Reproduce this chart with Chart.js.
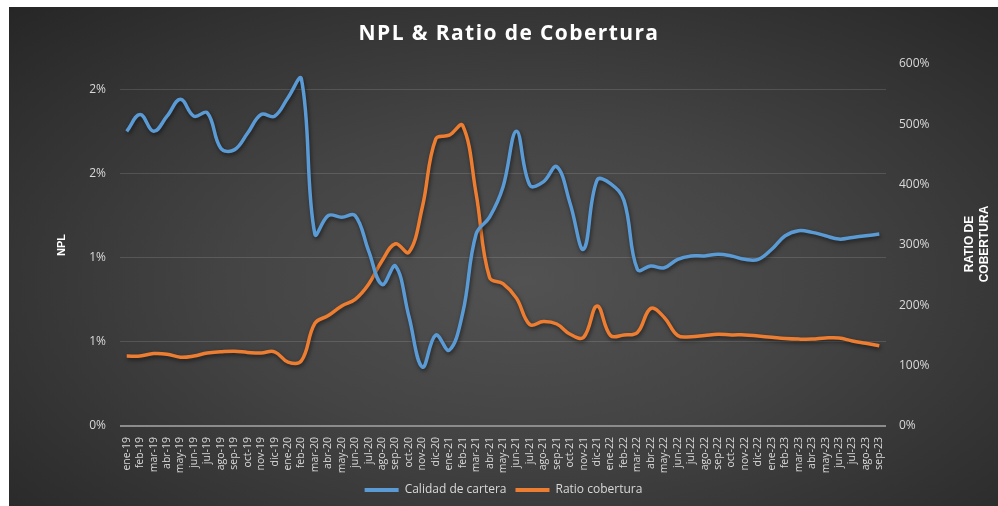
<!DOCTYPE html>
<html>
<head>
<meta charset="utf-8">
<script src="https://cdn.jsdelivr.net/npm/chart.js@4.4.1/dist/chart.umd.min.js"></script>
<style>
  html, body { margin: 0; padding: 0; background: #ffffff; }
  #wrap {
    position: absolute; left: 9px; top: 7px; width: 989px; height: 499px;
    background: radial-gradient(ellipse at 52% 55%, #525252 0%, #444444 40%, #262626 100%);
  }
  canvas { display: block; }
</style>
</head>
<body>
<div id="wrap"><canvas id="chart" width="989" height="499"></canvas></div>
<script>
// meses ene-19 ... sep-23
const meses = [
  "ene-19","feb-19","mar-19","abr-19","may-19","jun-19","jul-19","ago-19","sep-19","oct-19","nov-19","dic-19",
  "ene-20","feb-20","mar-20","abr-20","may-20","jun-20","jul-20","ago-20","sep-20","oct-20","nov-20","dic-20",
  "ene-21","feb-21","mar-21","abr-21","may-21","jun-21","jul-21","ago-21","sep-21","oct-21","nov-21","dic-21",
  "ene-22","feb-22","mar-22","abr-22","may-22","jun-22","jul-22","ago-22","sep-22","oct-22","nov-22","dic-22",
  "ene-23","feb-23","mar-23","abr-23","may-23","jun-23","jul-23","ago-23","sep-23"
];

// NPL en % (eje izquierdo)
const calidadCartera = [
  1.75, 1.85, 1.75, 1.84, 1.94, 1.84, 1.86, 1.65, 1.64, 1.74, 1.85, 1.84,
  1.95, 2.06, 1.14, 1.25, 1.24, 1.25, 1.04, 0.84, 0.95, 0.65, 0.35, 0.54,
  0.45, 0.67, 1.14, 1.24, 1.42, 1.75, 1.43, 1.45, 1.54, 1.32, 1.05, 1.46,
  1.44, 1.34, 0.93, 0.95, 0.94, 0.99, 1.01, 1.01, 1.02, 1.01, 0.99, 0.99,
  1.05, 1.13, 1.16, 1.15, 1.13, 1.11, 1.12, 1.13, 1.14
];

// ratio de cobertura en % (eje derecho)
const ratioCobertura = [
  116, 116, 120, 119, 114, 116, 121, 123, 124, 122, 121, 123,
  106, 108, 170, 183, 199, 210, 235, 274, 302, 288, 363, 476,
  482, 498, 385, 246, 236, 212, 168, 173, 169, 152, 147, 199,
  150, 151, 155, 195, 180, 150, 148, 150, 152, 151, 151, 149,
  147, 145, 144, 144, 146, 146, 141, 137, 133
];

const tituloGrafico = "NPL & Ratio de Cobertura";
const tituloDerecho = ["RATIO DE", "COBERTURA"];

const azul = "#5b9bd5";
const naranja = "#ed7d31";
const gris = "#d9d9d9";

// sombra suave de las lineas (como en Excel)
const sombra = {
  id: "sombra",
  beforeDatasetsDraw(chart) {
    const c = chart.ctx;
    c.save();
    c.shadowColor = "rgba(0,0,0,0.55)";
    c.shadowBlur = 4;
    c.shadowOffsetX = 1;
    c.shadowOffsetY = 2;
  },
  afterDatasetsDraw(chart) {
    chart.ctx.restore();
  }
};

// titulo principal y titulo del eje derecho
const textos = {
  id: "textos",
  afterDraw(chart) {
    const c = chart.ctx;
    c.save();
    c.fillStyle = "#ffffff";
    c.textAlign = "center";
    c.textBaseline = "middle";
    c.font = "bold 21px 'Open Sans'";
    c.letterSpacing = "1.4px";
    c.fillText(tituloGrafico, 500, 27);
    c.letterSpacing = "0px";
    c.font = "bold 12px 'Liberation Sans'";
    c.translate(968, 237);
    c.rotate(-Math.PI / 2);
    c.fillText(tituloDerecho[0], 0, -7.5);
    c.fillText(tituloDerecho[1], 0, 7.5);
    c.restore();
  }
};

const ctx = document.getElementById("chart").getContext("2d");
new Chart(ctx, {
  type: "line",
  data: {
    labels: meses,
    datasets: [
      {
        label: "Calidad de cartera",
        data: calidadCartera,
        yAxisID: "y",
        borderColor: azul,
        backgroundColor: azul,
        borderWidth: 3.5,
        pointRadius: 0,
        tension: 0.4,
      },
      {
        label: "Ratio cobertura",
        data: ratioCobertura,
        yAxisID: "y1",
        borderColor: naranja,
        backgroundColor: naranja,
        borderWidth: 3.5,
        pointRadius: 0,
        tension: 0.4,
      },
    ],
  },
  options: {
    responsive: false,
    animation: false,
    devicePixelRatio: 1,
    layout: { padding: { top: 57, left: 0, right: 0, bottom: 0 } },
    plugins: {
      title: { display: false },
      tooltip: { enabled: false },
      legend: {
        position: "bottom",
        labels: {
          color: gris,
          font: { family: "'Open Sans'", size: 12 },
          boxWidth: 34,
          boxHeight: 4,
          padding: 9,
          generateLabels(chart) {
            return Chart.defaults.plugins.legend.labels.generateLabels(chart).map((l) => {
              l.lineWidth = 0;
              l.fillStyle = l.strokeStyle;
              return l;
            });
          },
        },
      },
    },
    scales: {
      x: {
        offset: true,
        grid: { display: false },
        border: { display: false },
        ticks: {
          color: gris,
          font: { family: "'Open Sans'", size: 10.5 },
          autoSkip: false,
          minRotation: 90,
          maxRotation: 90,
          padding: 3,
        },
        afterFit(scale) { scale.height = 49; },
      },
      y: {
        position: "left",
        min: 0,
        max: 2.15,
        border: { display: false },
        grid: {
          drawTicks: false,
          color: (c) => (c.tick && c.tick.value === 0 ? "#8c8c8c" : "rgba(255,255,255,0.13)"),
          lineWidth: (c) => (c.tick && c.tick.value === 0 ? 2 : 1),
        },
        ticks: {
          stepSize: 0.5,
          includeBounds: false,
          color: gris,
          padding: 14,
          font: { family: "'Open Sans'", size: 12 },
          callback: (v) => Math.round(v) + "%",
        },
        title: {
          display: true,
          text: "NPL",
          color: "#ffffff",
          font: { family: "'Liberation Sans'", size: 11, weight: "bold" },
          padding: { top: 46, bottom: 0 },
        },
        afterFit(scale) { scale.width = 111; },
      },
      y1: {
        position: "right",
        min: 0,
        max: 600,
        border: { display: false },
        grid: { display: false, drawTicks: false },
        ticks: {
          stepSize: 100,
          color: gris,
          padding: 13,
          font: { family: "'Open Sans'", size: 12 },
          callback: (v) => v + "%",
        },
        afterFit(scale) { scale.width = 112; },
      },
    },
  },
  plugins: [sombra, textos],
});
</script>
</body>
</html>
